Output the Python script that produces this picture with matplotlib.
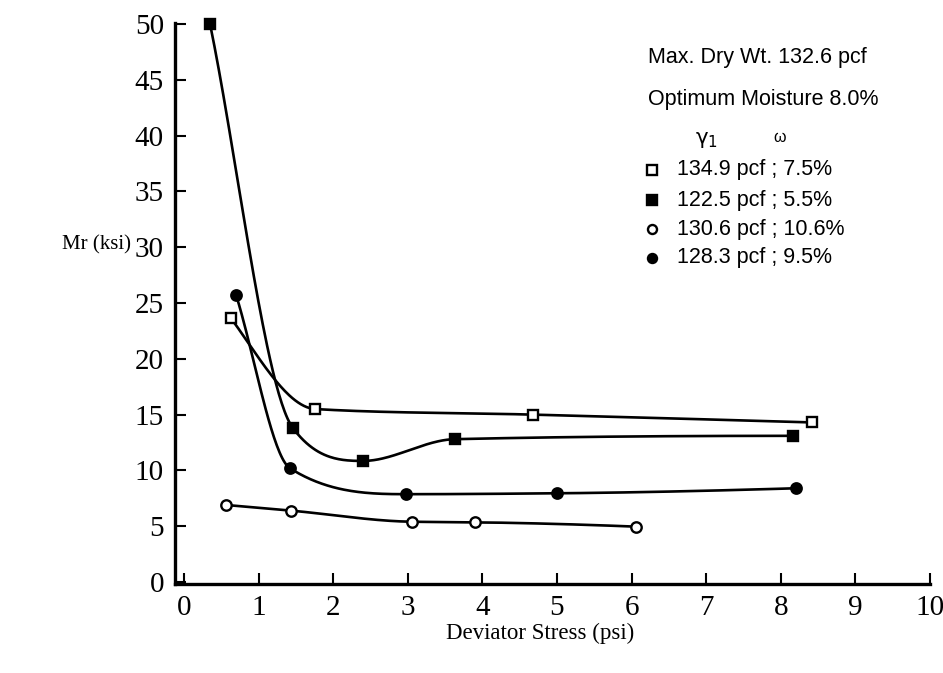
import numpy as np
import matplotlib
matplotlib.use("Agg")
import matplotlib.pyplot as plt
from matplotlib.lines import Line2D

# ---- data ----
sq_open_x = [0.63, 1.76, 4.68, 8.42]
sq_open_y = [23.65, 15.5, 15.0, 14.3]

sq_fill_x = [0.35, 1.46, 2.40, 3.63, 8.17]
sq_fill_y = [50.0, 13.8, 10.85, 12.8, 13.1]

ci_open_x = [0.57, 1.43, 3.06, 3.90, 6.06]
ci_open_y = [6.9, 6.4, 5.4, 5.35, 4.96]

ci_fill_x = [0.70, 1.42, 2.98, 5.00, 8.20]
ci_fill_y = [25.7, 10.2, 7.87, 7.95, 8.4]

legend_labels = ["134.9 pcf ; 7.5%", "122.5 pcf ; 5.5%",
                 "130.6 pcf ; 10.6%", "128.3 pcf ; 9.5%"]
x_ticks = list(range(0, 11))
y_ticks = list(range(0, 55, 5))


def smooth(x, y, straight_first=False, n=400):
    """Monotone cubic (PCHIP-like) curve through the points."""
    x = np.asarray(x, float)
    y = np.asarray(y, float)
    h = np.diff(x)
    delta = np.diff(y) / h
    d = np.zeros_like(y)
    for k in range(1, len(x) - 1):
        if delta[k - 1] * delta[k] > 0:
            w1 = 2 * h[k] + h[k - 1]
            w2 = h[k] + 2 * h[k - 1]
            d[k] = (w1 + w2) / (w1 / delta[k - 1] + w2 / delta[k])
        else:
            d[k] = 0.0

    def end(h0, h1, d0, d1):
        v = ((2 * h0 + h1) * d0 - h0 * d1) / (h0 + h1)
        if np.sign(v) != np.sign(d0):
            v = 0.0
        elif np.sign(d0) != np.sign(d1) and abs(v) > abs(3 * d0):
            v = 3 * d0
        return v

    d[0] = end(h[0], h[1], delta[0], delta[1])
    d[-1] = end(h[-1], h[-2], delta[-1], delta[-2])
    if straight_first:
        d[0] = delta[0]
        if delta[0] * delta[1] > 0:
            d[1] = np.sign(delta[1]) * 3 * min(abs(delta[0]), abs(delta[1])) * 0.95
        else:
            d[1] = np.sign(delta[0]) * 2.9 * abs(delta[1])
    xs = np.linspace(x[0], x[-1], n)
    idx = np.clip(np.searchsorted(x, xs) - 1, 0, len(x) - 2)
    t = (xs - x[idx]) / h[idx]
    h00 = 2 * t**3 - 3 * t**2 + 1
    h10 = t**3 - 2 * t**2 + t
    h01 = -2 * t**3 + 3 * t**2
    h11 = t**3 - t**2
    ys = h00 * y[idx] + h10 * h[idx] * d[idx] + h01 * y[idx + 1] + h11 * h[idx] * d[idx + 1]
    return xs, ys


W, H = 943, 673
fig = plt.figure(figsize=(W / 100, H / 100), dpi=100)
ax = fig.add_axes([175 / W, 1 - 584 / H, (930 - 175) / W, (584 - 23) / H])
ax.set_xlim(-0.12, 10)
ax.set_ylim(-0.18, 50.1)

serif = ["Liberation Serif", "DejaVu Serif"]
sans = ["Liberation Sans", "DejaVu Sans"]

series = [
    (sq_open_x, sq_open_y, "s", "white", False),
    (sq_fill_x, sq_fill_y, "s", "black", True),
    (ci_open_x, ci_open_y, "o", "white", False),
    (ci_fill_x, ci_fill_y, "o", "black", True),
]
for xs_, ys_, m, fc, sf in series:
    cx, cy = smooth(xs_, ys_, straight_first=sf)
    ax.plot(cx, cy, color="black", lw=1.9, zorder=2, solid_capstyle="round")
    ax.plot(xs_, ys_, linestyle="none", marker=m, markersize=7.5, clip_on=False,
            markerfacecolor=fc, markeredgecolor="black", markeredgewidth=1.7, zorder=3)

for s in ["top", "right"]:
    ax.spines[s].set_visible(False)
for s in ["left", "bottom"]:
    ax.spines[s].set_linewidth(2.4)

ax.set_xticks(x_ticks)
ax.set_yticks(y_ticks)
ax.tick_params(direction="in", length=8, width=1.5, labelsize=21, pad=8)
for lab in ax.get_xticklabels() + ax.get_yticklabels():
    lab.set_family(serif)

fig.text(96 / W, 1 - 245 / H, "Mr (ksi)", family=serif, fontsize=15,
         ha="center", va="center")
fig.text(540 / W, 1 - 633 / H, "Deviator Stress (psi)", family=serif, fontsize=16.5,
         ha="center", va="center")

fs = 15.5
fig.text(648 / W, 1 - 58 / H, "Max. Dry Wt. 132.6 pcf", family=sans, fontsize=fs,
         ha="left", va="center")
fig.text(648 / W, 1 - 99 / H, "Optimum Moisture 8.0%", family=sans, fontsize=fs,
         ha="left", va="center")
fig.text(707 / W, 1 - 140 / H, r"$\mathregular{\gamma_1}$", fontsize=fs, ha="center",
         va="center")
fig.text(780 / W, 1 - 137 / H, "ω", family=sans, fontsize=fs - 4, ha="center", va="center")

row_y = [170, 200, 229, 258]
leg_m = [("s", "white"), ("s", "black"), ("o", "white"), ("o", "black")]
for (m, fc), yy, lab in zip(leg_m, row_y, legend_labels):
    fig.lines.append(Line2D([652 / W], [1 - yy / H], transform=fig.transFigure,
                            linestyle="none", marker=m, markersize=6.5,
                            markerfacecolor=fc, markeredgecolor="black",
                            markeredgewidth=1.7))
    fig.text(677 / W, 1 - yy / H, lab, family=sans, fontsize=fs, ha="left", va="center")

fig.savefig("out.png", dpi=100)
